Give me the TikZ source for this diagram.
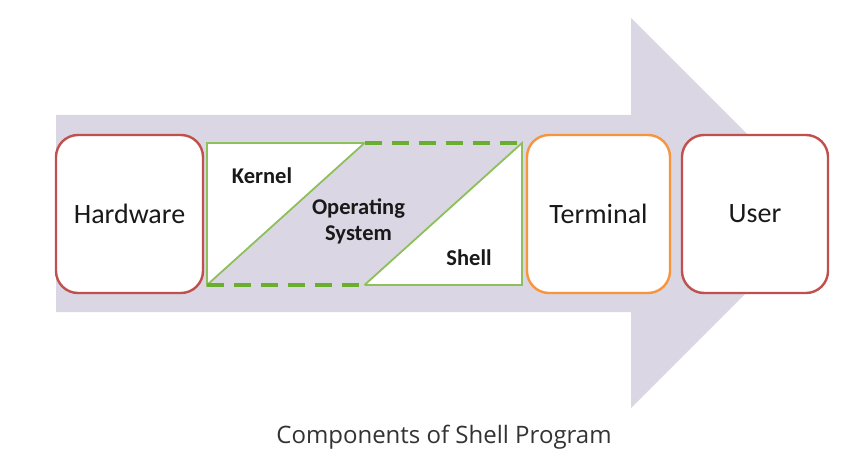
\documentclass[tikz,border=0pt]{standalone}
\usepackage{fontspec}
\setmainfont{Carlito}
\newfontfamily\capfont{Open Sans}
\usetikzlibrary{positioning,calc}
\definecolor{lav}{HTML}{DAD6E3}
\definecolor{boxred}{HTML}{C0504D}
\definecolor{boxorange}{HTML}{F7953F}
\definecolor{osgreen}{HTML}{8DC05A}
\definecolor{dashgreen}{HTML}{6AAE2E}
\begin{document}
\begin{tikzpicture}[x=1pt, y=-1pt, node distance=4pt,
	every node/.style = {inner sep=0pt, outer sep=0pt, align=center, text=black!90},
	layerbox/.style = {shape=rectangle, rounded corners=22pt, draw, line width=2.4pt, fill=white, minimum height=158pt, font=\fontsize{28}{33}\selectfont},
	osbox/.style = {shape=rectangle, minimum width=315pt, minimum height=142pt},
	oslabel/.style = {font=\fontsize{22.5}{26}\selectfont\bfseries},
	thinline/.style = {draw=osgreen, line width=1.8pt},
	dashline/.style = {draw=dashgreen, line width=4pt, dash pattern=on 17pt off 10pt}]
	\useasboundingbox (0,0) rectangle (862,468);
	% big arrow behind everything
	\fill[lav] (56,115) -- (631,115) -- (631,18) -- (826,213) -- (631,408) -- (631,312) -- (56,312) -- cycle;
	\node[layerbox, draw=boxred, minimum width=147pt] (hw) at (129.5,214) {Hardware};
	\node[osbox, right=4pt of hw] (os) {};
	\node[layerbox, draw=boxorange, minimum width=143pt, right=5pt of os] (term) {Terminal};
	\node[layerbox, draw=boxred, minimum width=146pt, right=12pt of term] (user) {User};
	% operating system block
	\fill[white] (os.south west) rectangle (os.north east);
	\fill[lav] (os.south west) -- (os.north) -- (os.north east) -- (os.south) -- cycle;
	\draw[thinline] (os.north) -- (os.north west) -- (os.south west) -- (os.north);
	\draw[thinline] (os.south) -- (os.south east) -- (os.north east) -- (os.south);
	\draw[dashline] (os.north) -- (os.north east);
	\draw[dashline] (os.south west) -- (os.south);
	\node[oslabel] (kernel) at ($(os.center)+(-102.5,-38)$) {Kernel};
	\node[oslabel] (opsys) at ($(os.center)+(-6,7)$) {Operating\\System};
	\node[oslabel] (shell) at ($(os.center)+(104.5,44)$) {Shell};
	\node[font=\capfont\fontsize{24}{28}\selectfont, text=black!80] (caption) at (444,437) {Components of Shell Program};
\end{tikzpicture}
\end{document}
